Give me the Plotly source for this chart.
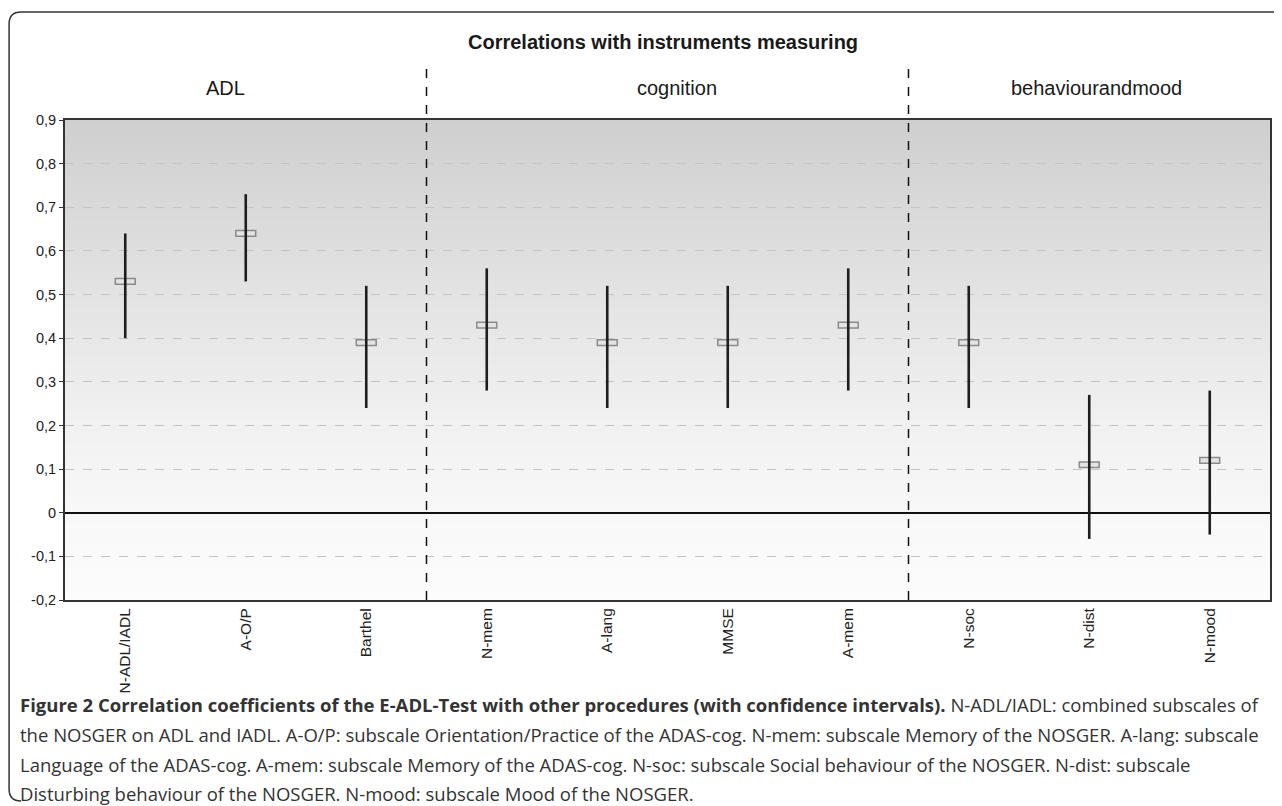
import plotly.graph_objects as go

# ---------------- data ----------------
categories = ["N-ADL/IADL", "A-O/P", "Barthel", "N-mem", "A-lang", "MMSE",
              "A-mem", "N-soc", "N-dist", "N-mood"]
correlation = [0.53, 0.64, 0.39, 0.43, 0.39, 0.39, 0.43, 0.39, 0.11, 0.12]
ci_lower = [0.40, 0.53, 0.24, 0.28, 0.24, 0.24, 0.28, 0.24, -0.06, -0.05]
ci_upper = [0.64, 0.73, 0.52, 0.56, 0.52, 0.52, 0.56, 0.52, 0.27, 0.28]

group_names = ["ADL", "cognition", "behaviourandmood"]
group_sizes = [3, 4, 3]

y_ticks = [0.9, 0.8, 0.7, 0.6, 0.5, 0.4, 0.3, 0.2, 0.1, 0.0, -0.1, -0.2]
y_tick_labels = ["0,9", "0,8", "0,7", "0,6", "0,5", "0,4", "0,3", "0,2",
                 "0,1", "0", "-0,1", "-0,2"]

title_text = "<b>Correlations with instruments measuring</b>"
caption_lines = [
    "<b>Figure 2 Correlation coefficients of the E-ADL-Test with other procedures (with confidence intervals).</b> N-ADL/IADL: combined subscales of",
    "the NOSGER on ADL and IADL. A-O/P: subscale Orientation/Practice of the ADAS-cog. N-mem: subscale Memory of the NOSGER. A-lang: subscale",
    "Language of the ADAS-cog. A-mem: subscale Memory of the ADAS-cog. N-soc: subscale Social behaviour of the NOSGER. N-dist: subscale",
    "Disturbing behaviour of the NOSGER. N-mood: subscale Mood of the NOSGER.",
]

# ---------------- layout constants ----------------
OFF = 8  # page body margin of the browser
W, H = 1282 - OFF, 806 - OFF
ML, MR, MT, MB = 57, 10, 112, 206
PW, PH = W - ML - MR, H - MT - MB
Y_MIN, Y_MAX = -0.2, 0.9


def px_to_paper_x(px):
    return (px - OFF - ML) / PW


def px_to_paper_y(py):
    return (H - MB - (py - OFF)) / PH


idx = list(range(len(categories)))
fig = go.Figure()

# point-estimate boxes
box_h = 0.013
fig.add_trace(go.Bar(
    x=idx, y=[box_h] * len(idx), base=[v - box_h / 2 for v in correlation],
    width=0.165,
    marker=dict(color="#e4e4e4", line=dict(color="#8a8a8a", width=1.5)),
    hoverinfo="skip", showlegend=False,
))

# confidence intervals
fig.add_trace(go.Scatter(
    x=idx, y=correlation, mode="markers",
    marker=dict(size=1, color="rgba(0,0,0,0)"),
    error_y=dict(type="data", symmetric=False,
                 array=[u - v for u, v in zip(ci_upper, correlation)],
                 arrayminus=[v - l for v, l in zip(correlation, ci_lower)],
                 width=0, thickness=2.6, color="#1e1e1e"),
    showlegend=False, hoverinfo="skip",
))

shapes = []
# gradient background (drawn below grid)
stops = [(-0.2, 252), (0.0, 248), (0.2, 241), (0.5, 227), (0.9, 207)]


def grey_at(y):
    for (y0, c0), (y1, c1) in zip(stops[:-1], stops[1:]):
        if y0 <= y <= y1:
            t = (y - y0) / (y1 - y0)
            return round(c0 + t * (c1 - c0))
    return stops[-1][1]


n_steps = 240
step = (Y_MAX - Y_MIN) / n_steps
for i in range(n_steps):
    y0 = Y_MIN + i * step
    g = grey_at(y0 + step / 2)
    shapes.append(dict(type="rect", xref="paper", yref="y", x0=0, x1=1,
                       y0=y0, y1=y0 + step * 1.5, layer="below",
                       line=dict(width=0), fillcolor=f"rgb({g},{g},{g})"))

# group separators
bounds = []
acc = 0
for s in group_sizes[:-1]:
    acc += s
    bounds.append(acc - 0.5)
for b in bounds:
    shapes.append(dict(type="line", xref="x", yref="paper", x0=b, x1=b,
                       y0=0, y1=px_to_paper_y(64),
                       line=dict(color="#111", width=1.5, dash="dash")))

# outer rounded frame
lx, rx = px_to_paper_x(9), px_to_paper_x(1290)
ty, by = px_to_paper_y(12), px_to_paper_y(801)
rxp, ryp = 12 / PW, 12 / PH
path = (f"M {lx + rxp},{ty} L {rx},{ty} M {lx},{by + ryp} L {lx},{ty - ryp} "
        f"Q {lx},{ty} {lx + rxp},{ty} "
        f"M {lx},{by + ryp} Q {lx},{by} {lx + rxp},{by}")
shapes.append(dict(type="path", xref="paper", yref="paper", path=path,
                   line=dict(color="#333", width=1.5)))

annotations = []
annotations.append(dict(text=title_text, xref="paper", yref="paper",
                        x=px_to_paper_x(664), y=px_to_paper_y(42),
                        showarrow=False,
                        font=dict(family="Liberation Sans, Arial", size=20,
                                  color="#1a1a1a"),
                        xanchor="center", yanchor="middle"))
# group labels (hand-placed in the original, slightly off-centre)
label_shift = [-20, 9, 7]
start = 0
for name, s, sh in zip(group_names, group_sizes, label_shift):
    center = start + (s - 1) / 2
    annotations.append(dict(text=name, xref="x", yref="paper", x=center,
                            y=px_to_paper_y(88), showarrow=False, xshift=sh,
                            font=dict(family="Liberation Sans, Arial", size=20,
                                      color="#1a1a1a"),
                            xanchor="center", yanchor="middle"))
    start += s

# caption
caption_y = [704, 734, 764, 793]
for line, cy in zip(caption_lines, caption_y):
    annotations.append(dict(text=line, xref="paper", yref="paper",
                            x=px_to_paper_x(18), y=px_to_paper_y(cy),
                            showarrow=False, xanchor="left", yanchor="middle",
                            font=dict(family="Open Sans", size=18.5,
                                      color="#333")))

fig.update_layout(
    width=W, height=H,
    margin=dict(l=ML, r=MR, t=MT, b=MB),
    paper_bgcolor="white", plot_bgcolor="rgba(0,0,0,0)",
    shapes=shapes, annotations=annotations,
    font=dict(family="Liberation Sans, Arial", color="#222"),
    showlegend=False,
    xaxis=dict(range=[-0.5, len(categories) - 0.5], tickvals=idx,
               ticktext=categories, tickangle=-90, showgrid=False,
               zeroline=False, showline=True, mirror=True, linecolor="#333",
               linewidth=2, ticks="", tickfont=dict(size=15.5, color="#222")),
    yaxis=dict(range=[Y_MIN, Y_MAX], tickvals=y_ticks, ticktext=y_tick_labels,
               showgrid=True, gridcolor="#c4c4c4", griddash="dash",
               gridwidth=1, zeroline=True, zerolinecolor="#111",
               zerolinewidth=1.5, showline=True, mirror=True,
               linecolor="#333", linewidth=2, ticks="outside", ticklen=4,
               tickcolor="#333", tickfont=dict(size=14.5, color="#222")),
)

fig.write_html("out.html")
